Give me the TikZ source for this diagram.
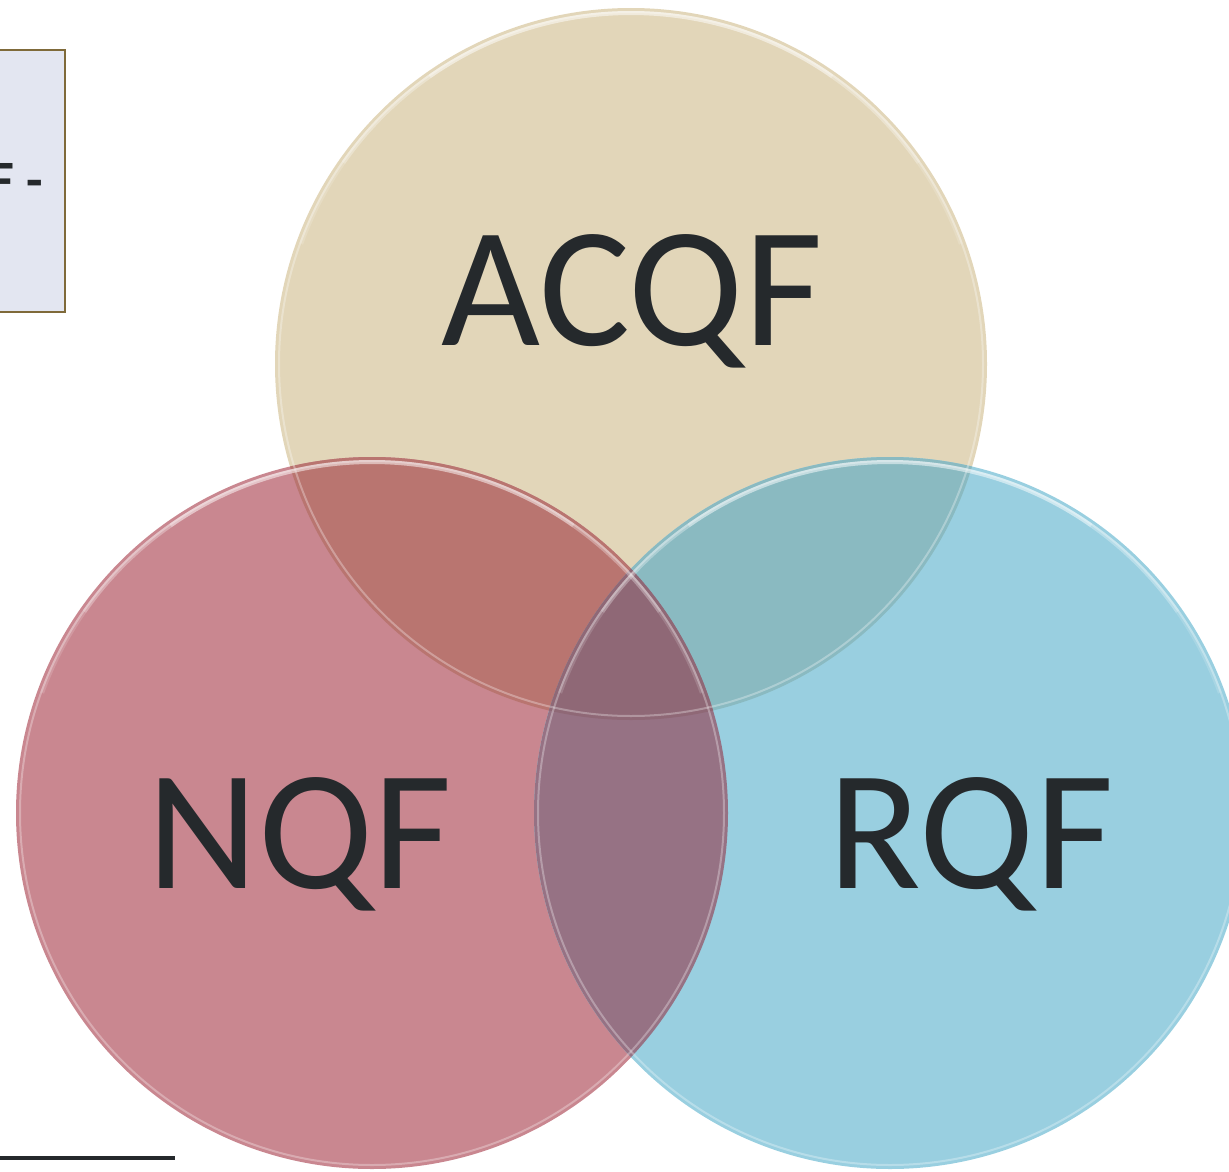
\documentclass[tikz,border=0pt]{standalone}
\usepackage{fontspec}
\setmainfont{Carlito}
\definecolor{colA}{HTML}{E2D6B9}
\definecolor{colN}{HTML}{C98790}
\definecolor{colR}{HTML}{99CFE0}
\definecolor{colAN}{HTML}{B97570}
\definecolor{colAR}{HTML}{8ABAC1}
\definecolor{colNR}{HTML}{967284}
\definecolor{colANR}{HTML}{8F6876}
\definecolor{ink}{HTML}{25292C}
\definecolor{boxfill}{HTML}{E3E6F1}
\definecolor{boxline}{HTML}{7F6A3A}
\begin{document}
\begin{tikzpicture}[x=1pt,y=-1pt,
  setcircle/.style={circle,minimum size=712pt,inner sep=0pt},
  biglabel/.style={anchor=base,text=ink,font=\fontsize{171}{171}\selectfont,inner sep=0pt},
  rim/.style={white,line width=2pt,opacity=0.3},
  toprim/.style={white,line width=4pt,opacity=#1}]
\useasboundingbox (0,0) rectangle (1229,1172);
% base circles
\node[setcircle,fill=colA] (acqf) at (631,364) {};
\node[setcircle,fill=colN] (nqf) at (372,813) {};
\node[setcircle,fill=colR] (rqf) at (890,813) {};
% pairwise overlaps
\begin{scope}
  \clip (631,364) circle (356pt);
  \fill[colAN] (372,813) circle (356pt);
  \fill[colAR] (890,813) circle (356pt);
\end{scope}
\begin{scope}
  \clip (372,813) circle (356pt);
  \fill[colNR] (890,813) circle (356pt);
  \clip (890,813) circle (356pt);
  \fill[colANR] (631,364) circle (356pt);
\end{scope}
% rims
\foreach \c in {acqf,nqf,rqf}{
  \draw[rim] (\c.center) circle (352pt);
  \draw[toprim=0.5] ([shift={(125:351pt)}]\c.center) arc[start angle=125,end angle=55,radius=351pt];
  \draw[toprim=0.3] ([shift={(145:351pt)}]\c.center) arc[start angle=145,end angle=125,radius=351pt];
  \draw[toprim=0.3] ([shift={(55:351pt)}]\c.center) arc[start angle=55,end angle=35,radius=351pt];
  \draw[toprim=0.15] ([shift={(160:351pt)}]\c.center) arc[start angle=160,end angle=145,radius=351pt];
  \draw[toprim=0.15] ([shift={(35:351pt)}]\c.center) arc[start angle=35,end angle=20,radius=351pt];
}
% labels
\node[biglabel] (acqf-t) at (632,345) {ACQF};
\node[biglabel] (nqf-t) at (300,888) {NQF};
\node[biglabel] (rqf-t) at (971,888) {RQF};
% top-left box
\node[draw=boxline,line width=2pt,fill=boxfill,minimum width=80pt,minimum height=262pt,inner sep=0pt] (box) at (25,181) {};
\begin{scope}
  \clip (box.south west) rectangle (box.north east);
  \node[anchor=base east,text=ink,font=\bfseries\fontsize{54}{54}\selectfont,inner sep=0pt] (boxt) at (43,198) {F -};
\end{scope}
% bottom-left rule
\coordinate (r1) at (0,1158);
\coordinate (r2) at (175,1158);
\draw[ink,line width=4pt] (r1) -- (r2);
\end{tikzpicture}
\end{document}
